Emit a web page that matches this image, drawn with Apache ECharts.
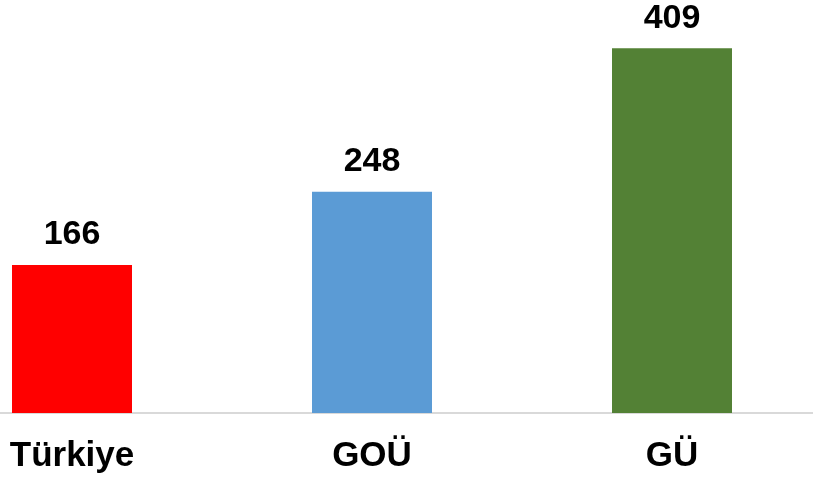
<!DOCTYPE html>
<html><head><meta charset="utf-8">
<script src="https://cdn.jsdelivr.net/npm/echarts@6/dist/echarts.min.js"></script>
<style>
html,body{margin:0;padding:0;overflow:hidden;background:#fff;width:813px;height:478px;position:relative;}
#c{position:absolute;left:-78px;top:0;width:900px;height:478px;}
</style></head>
<body><div id="c"></div>
<script>
var categories = ['Türkiye', 'GOÜ', 'GÜ'];
var values = [166, 248, 409];
var colors = ['#ff0000', '#5b9bd5', '#538135'];

var chart = echarts.init(document.getElementById('c'), null, {renderer: 'canvas'});
chart.setOption({
  animation: false,
  grid: {left: 0, right: 0, top: 0, bottom: 65, containLabel: false},
  xAxis: {
    type: 'category', data: categories,
    axisLine: {lineStyle: {color: '#d9d9d9', width: 2}},
    axisTick: {show: false},
    axisLabel: {color: '#000', fontSize: 35, fontWeight: 'bold', fontFamily: 'Liberation Sans, Arial, sans-serif', margin: 26}
  },
  yAxis: {type: 'value', min: 0, max: 463, show: false, splitLine: {show: false}},
  series: [{
    type: 'bar', barWidth: '40%',
    data: values.map(function(v, i){ return {value: v, itemStyle: {color: colors[i]}}; }),
    label: {show: true, position: 'top', distance: 13, color: '#000', fontSize: 34, fontWeight: 'bold', fontFamily: 'Liberation Sans, Arial, sans-serif'}
  }]
});
</script></body></html>
